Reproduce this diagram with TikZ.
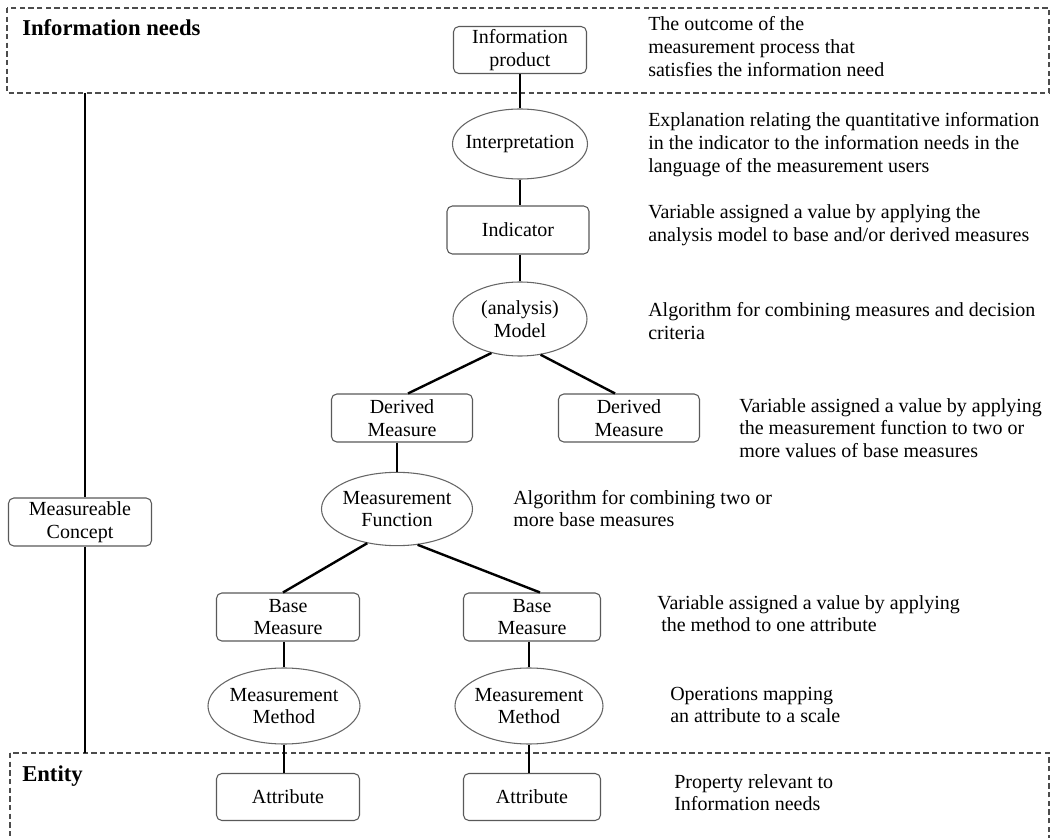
\documentclass[tikz,border=0pt]{standalone}
\usepackage{fontspec}
\setmainfont{Liberation Serif}
\usetikzlibrary{shapes.geometric,calc}
% left-aligned block of lines whose baseline is the first line
\newcommand\desclines[1]{\vtop{\halign{##\hfil\cr#1\crcr}}}
\begin{document}
\begin{tikzpicture}[x=0.75pt,y=-0.75pt,
  every node/.style={font=\fontsize{15}{17}\selectfont},
  rbox/.style={draw=black!65, line width=0.8pt, rounded corners=4pt, fill=white,
               align=center, inner sep=0pt},
  oval/.style={ellipse, draw=black!60, line width=0.8pt, fill=white,
               align=center, inner xsep=-6pt, inner ysep=0pt},
  link/.style={line width=1.8pt, black},
  zone/.style={draw=black!70, line width=0.8pt, dash pattern=on 4pt off 2.5pt},
  desc/.style={anchor=base west, inner sep=0pt},
  head/.style={anchor=base west, inner sep=0pt,
               font=\fontsize{17}{20}\selectfont\bfseries}]
\useasboundingbox (0,0) rectangle (1051,838);

% dashed zones
\draw[zone] (7,8) rectangle (1049,93);
\draw[zone] (10,753) rectangle (1049,845);
\node[head] (hinfo) at (22,36) {Information needs};
\node[head] (hent) at (22,781) {Entity};

% measurement chain
\node[rbox, minimum width=99.75pt, minimum height=35.25pt] (ip) at (520,50) {Information\\product};
\node[oval, minimum width=101.25pt, minimum height=52.5pt] (interp) at (520,144) {Interpretation};
\node[rbox, minimum width=106.5pt, minimum height=36pt] (ind) at (518,230) {Indicator};
\node[oval, minimum width=100.5pt, minimum height=55.5pt] (model) at (520,319) {(analysis)\\Model};
\node[rbox, minimum width=105.75pt, minimum height=36pt] (dm1) at (402,418) {Derived\\Measure};
\node[rbox, minimum width=105.75pt, minimum height=36pt] (dm2) at (629,418) {Derived\\Measure};
\node[oval, minimum width=113.25pt, minimum height=55pt] (mf) at (397,509) {Measurement\\Function};
\node[rbox, minimum width=107.25pt, minimum height=36pt] (bm1) at (288,617) {Base\\Measure};
\node[rbox, minimum width=102.75pt, minimum height=36pt] (bm2) at (532,617) {Base\\Measure};
\node[oval, minimum width=114pt, minimum height=57pt] (mm1) at (284,706) {Measurement\\Method};
\node[oval, minimum width=111pt, minimum height=57pt] (mm2) at (529,706) {Measurement\\Method};
\node[rbox, minimum width=107.25pt, minimum height=35.25pt] (at1) at (288,797) {Attribute};
\node[rbox, minimum width=102.75pt, minimum height=35.25pt] (at2) at (532,797) {Attribute};
\node[rbox, minimum width=107.25pt, minimum height=36pt] (mc) at (80,522) {Measureable\\Concept};

% vertical line of the measurable concept
\coordinate (mctop) at (85,93);
\coordinate (mcbot) at (85,753);
\draw[link] (mctop) -- (mctop |- mc.north);
\draw[link] (mc.south -| mcbot) -- (mcbot);

% connectors
\draw[link] (ip.south) -- (interp.north);
\draw[link] (interp.south) -- (interp.south |- ind.north);
\draw[link] (ind.south -| model.north) -- (model.north);
\draw[link] (model.230) -- ($(dm1.north)+(6,0)$);
\draw[link] (model.300) -- ($(dm2.north)+(-14,0)$);
\draw[link] (dm1.south -| mf.north) -- (mf.north);
\draw[link] (mf.229) -- ($(bm1.north)+(-5,0)$);
\draw[link] (mf.300) -- ($(bm2.north)+(8,0)$);
\draw[link] (bm1.south -| mm1.north) -- (mm1.north);
\draw[link] (mm1.south) -- (mm1.south |- at1.north);
\draw[link] (bm2.south -| mm2.north) -- (mm2.north);
\draw[link] (mm2.south) -- (mm2.south |- at2.north);

% descriptions
\node[desc] (t1) at (648,31) {\desclines{The outcome of the\cr measurement process that\cr satisfies the information need}};
\node[desc] (t2) at (648,127) {\desclines{Explanation relating the quantitative information\cr in the indicator to the information needs in the\cr language of the measurement users}};
\node[desc] (t3) at (648,219) {\desclines{Variable assigned a value by applying the\cr analysis model to base and/or derived measures}};
\node[desc] (t4) at (648,317) {\desclines{Algorithm for combining measures and decision\cr criteria}};
\node[desc] (t5) at (739,412) {\desclines{Variable assigned a value by applying\cr the measurement function to two or\cr more values of base measures}};
\node[desc] (t6) at (513,504) {\desclines{Algorithm for combining two or\cr more base measures}};
\node[desc] (t7) at (657,609) {\desclines{Variable assigned a value by applying\cr\hspace{3pt}the method to one attribute}};
\node[desc] (t8) at (670,700) {\desclines{Operations mapping\cr an attribute to a scale}};
\node[desc] (t9) at (674,788) {\desclines{Property relevant to\cr Information needs}};
\end{tikzpicture}
\end{document}
